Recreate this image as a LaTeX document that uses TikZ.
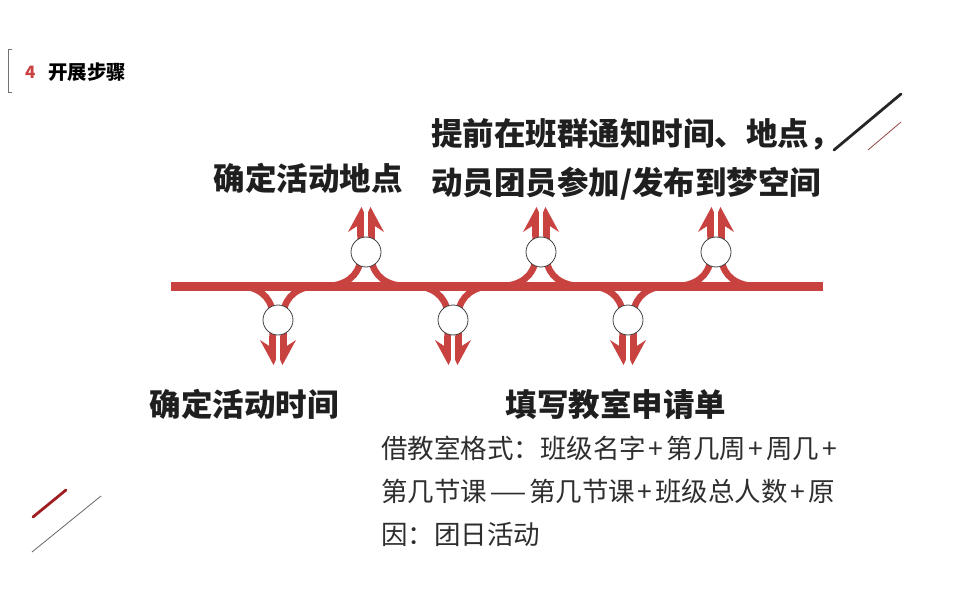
\documentclass[tikz,border=0pt]{standalone}
\usepackage{fontspec}
\usepackage{graphicx}
\setmainfont{Noto Sans CJK SC}
\definecolor{roadred}{RGB}{200,66,64}
\definecolor{deepred}{RGB}{160,30,34}
\newcommand\plk{\kern2.8pt+\kern2.8pt}
\newcommand\dashk{\kern2pt\scalebox{1.6}[1]{—}\kern2pt}
\tikzset{
  road/.style={roadred, line width=9pt},
  lane/.style={roadred, line width=6.5pt},
  headtip/.style={fill=roadred, draw=none},
  hub/.style={circle, fill=white, draw=black!75, line width=0.8pt, minimum size=30pt, inner sep=0pt},
  bigtitle/.style={font=\bfseries\fontsize{31.5}{49}\selectfont, text=black!88, inner sep=0pt},
  bodytext/.style={font=\fontsize{26.5}{43}\selectfont, text=black!82, inner sep=0pt, align=left},
}
\begin{document}
\begin{tikzpicture}[x=1pt,y=-1pt]
\useasboundingbox (0,0) rectangle (970,607);
% header
\draw[black!55, line width=0.8pt] (12,49) -- (8,49) -- (8,92) -- (12,92);
\node[anchor=west, text=roadred, font=\bfseries\fontsize{17}{20}\selectfont, inner sep=0pt] (num) at (25,72) {4};
\node[anchor=west, font=\bfseries\fontsize{19.5}{22}\selectfont, inner sep=0pt] (hdr) at (48,72) {开展步骤};
% decorative lines
\coordinate (a1) at (834,150); \coordinate (a2) at (901,94);
\coordinate (b1) at (868,150); \coordinate (b2) at (901,122);
\coordinate (c1) at (33,517); \coordinate (c2) at (66,490);
\coordinate (d1) at (32,552); \coordinate (d2) at (101,496);
\draw[black!85, line width=2.8pt, line cap=round] (a1) -- (a2);
\draw[deepred!60!gray, line width=0.8pt] (b1) -- (b2);
\draw[deepred, line width=2.8pt, line cap=round] (c1) -- (c2);
\draw[black!60, line width=0.8pt] (d1) -- (d2);
% main road
\coordinate (L) at (171,286); \coordinate (R) at (823,286);
\draw[road] (L) -- (R);
% branches
\foreach \x/\s/\n in {278/1/d1, 366/-1/u1, 453/1/d2, 541/-1/u2, 628/1/d3, 716/-1/u3} {
  \begin{scope}[shift={(\x,286)}, yscale=\s]
    \draw[lane] (-40,0) .. controls (-21,0) and (-7,10) .. (-5.5,27) -- (-5.5,60);
    \draw[lane] (40,0) .. controls (21,0) and (7,10) .. (5.5,27) -- (5.5,60);
    \fill[headtip] (-2.2,50) -- (-2.2,74) -- (-4.5,79) -- (-18,54) -- (-8.8,60) -- (-8.8,50) -- cycle;
    \fill[headtip] (2.2,50) -- (2.2,74) -- (4.5,79) -- (18,54) -- (8.8,60) -- (8.8,50) -- cycle;
    \node[hub] (\n) at (0,34) {};
  \end{scope}
}
% texts
\node[bigtitle] (t1) at (308,178) {确定活动地点};
\node[bigtitle, anchor=west, align=left] (t2) at (431,159.5) {提前在班群通知时间、地点，\\动员团员参加/发布到梦空间};
\node[bigtitle] (t3) at (244,404) {确定活动时间};
\node[bigtitle] (t4) at (616,404) {填写教室申请单};
\node[bodytext, anchor=north west] (t5) at (381,436) {借教室格式：班级名字\plk 第几周\plk 周几\plk\\第几节课\dashk 第几节课\plk 班级总人数\plk 原\\因：团日活动};
\end{tikzpicture}
\end{document}
